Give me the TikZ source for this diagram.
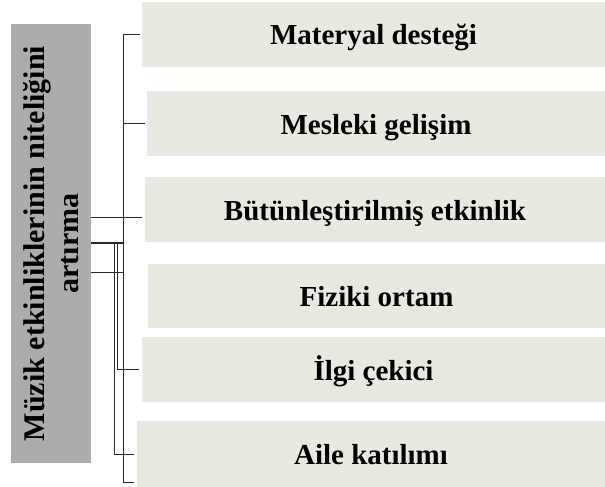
\documentclass[tikz,border=0pt]{standalone}
\usepackage{fontspec}
\setmainfont{Liberation Serif}
\definecolor{itemfill}{RGB}{234,233,225}
\definecolor{mainfill}{RGB}{172,172,172}
\definecolor{linecol}{RGB}{40,40,40}
\begin{document}
\begin{tikzpicture}[x=1pt,y=-1pt,
  item/.style={fill=itemfill,draw=none,inner sep=0pt,minimum height=65pt,
    text height=21pt,text depth=0pt,
    font=\fontsize{29}{34}\selectfont\bfseries},
  conn/.style={draw=linecol,line width=0.9pt},
  thickconn/.style={draw=linecol,line width=2pt}]
\useasboundingbox (0,0) rectangle (605,487);
% main box
\node[fill=mainfill,rotate=90,minimum width=439pt,minimum height=80pt,inner sep=0pt,
  align=center,font=\fontsize{30}{34}\selectfont\bfseries] (g) at (51,243.5)
  {Müzik etkinliklerinin niteliğini\\artırma};
% item boxes
\node[item,minimum width=463pt] (b1) at (373.5,34.5) {Materyal desteği};
\node[item,minimum width=458pt] (b2) at (376,123.5) {Mesleki gelişim};
\node[item,minimum width=460pt] (b3) at (375,209.5) {Bütünleştirilmiş etkinlik};
\node[item,minimum width=457pt,minimum height=64pt] (b4) at (376.5,296) {Fiziki ortam};
\node[item,minimum width=463pt] (b5) at (373.5,369.5) {İlgi çekici};
\node[item,minimum width=468pt,minimum height=66pt] (b6) at (371,454) {Aile katılımı};
% coordinates of trunks
\coordinate (tA) at (123,0);
\coordinate (tB) at (117,0);
\coordinate (tC) at (114,0);
% main trunk
\draw[conn] ([xshift=-2pt]b1.west) -- (tA |- b1.west) -- (123,482) -- ([xshift=-3pt]b6.west |- 0,482);
\draw[conn] ([xshift=-2pt]b2.west) -- (tA |- b2.west);
% lines from the main box
\draw[conn] (g.south |- 0,217) -- ([xshift=-3pt]b3.west |- 0,217);
\draw[thickconn] (g.south |- 0,243) -- (123,243);
\draw[conn] (g.south |- 0,272) -- (123,272);
\draw[conn] (tB |- 0,243) -- (tB |- b5.west) -- ([xshift=-3pt]b5.west);
\draw[conn] (tC |- 0,243) -- (tC |- b6.west) -- ([xshift=-3pt]b6.west);
\end{tikzpicture}
\end{document}
